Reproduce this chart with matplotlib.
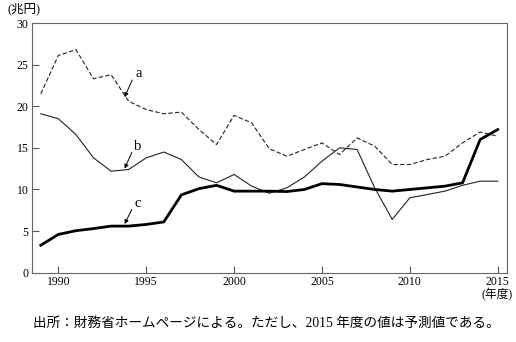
import matplotlib
matplotlib.use("Agg")
import matplotlib.pyplot as plt

# データ（兆円）
years = list(range(1989, 2016))
a_vals = [21.5, 26.1, 26.8, 23.3, 23.8, 20.6, 19.6, 19.1, 19.3, 17.2, 15.4, 18.9, 18.0,
          14.9, 14.0, 14.8, 15.6, 14.2, 16.2, 15.2, 13.0, 13.0, 13.6, 14.0, 15.6, 16.9, 16.4]
b_vals = [19.1, 18.5, 16.6, 13.8, 12.2, 12.4, 13.8, 14.5, 13.6, 11.5, 10.8, 11.8, 10.4,
          9.55, 10.2, 11.5, 13.4, 15.0, 14.8, 10.2, 6.4, 9.0, 9.4, 9.8, 10.5, 11.0, 11.0]
c_vals = [3.3, 4.6, 5.05, 5.3, 5.6, 5.6, 5.8, 6.1, 9.35, 10.1, 10.5, 9.8, 9.8,
          9.8, 9.75, 10.0, 10.7, 10.6, 10.3, 10.0, 9.8, 10.0, 10.2, 10.4, 10.8, 16.0, 17.2]
x_ticks = [1990, 1995, 2000, 2005, 2010, 2015]
y_ticks = [0, 5, 10, 15, 20, 25, 30]

serif = ['Liberation Serif', 'Noto Sans CJK JP']
plt.rcParams['font.family'] = serif

fig = plt.figure(figsize=(5.16, 3.42), dpi=100)
ax = fig.add_axes([0.062, 0.2026, 0.9206, 0.7301])

ax.plot(years, a_vals, color='#222222', lw=0.8, dashes=(4, 2))
ax.plot(years, b_vals, color='#222222', lw=0.8)
ax.plot(years, c_vals, color='black', lw=2.0)

# ラベル a, b, c と矢印
labels = ['a', 'b', 'c']
text_pos = [(1994.55, 23.9), (1994.53, 15.2), (1994.53, 8.35)]
arrow_tip = [(1993.77, 21.1), (1993.77, 12.5), (1993.77, 5.85)]
for lab, tp, tip in zip(labels, text_pos, arrow_tip):
    ax.text(tp[0], tp[1], lab, fontsize=10.5, ha='center', va='center')
    ax.annotate('', xy=tip, xytext=(tp[0] - 0.35, tp[1] - 0.75),
                arrowprops=dict(arrowstyle='-|>', color='black', lw=0.7,
                                mutation_scale=6, shrinkA=0, shrinkB=0))

ax.set_xlim(1988.5, 2015.53)
ax.set_ylim(0, 30)
ax.set_xticks(x_ticks)
ax.set_yticks(y_ticks)
ax.tick_params(direction='in', length=5, width=0.8, color='#555555',
               labelsize=8.5, pad=2.5)
for sp in ax.spines.values():
    sp.set_color('#666666')
    sp.set_linewidth(0.8)

fig.text(7 / 516, 1 - 9 / 342, '(兆円)', fontsize=9, ha='left', va='center',
         family=serif)
fig.text(513 / 516, 1 - 295 / 342, '(年度)', fontsize=8.5, ha='right', va='center',
         family=serif)
fig.text(266 / 516, 1 - 323 / 342,
         '出所：財務省ホームページによる。ただし、2015 年度の値は予測値である。',
         fontsize=9.8, ha='center', va='center', family=serif)

fig.savefig('out.png', dpi=100)
